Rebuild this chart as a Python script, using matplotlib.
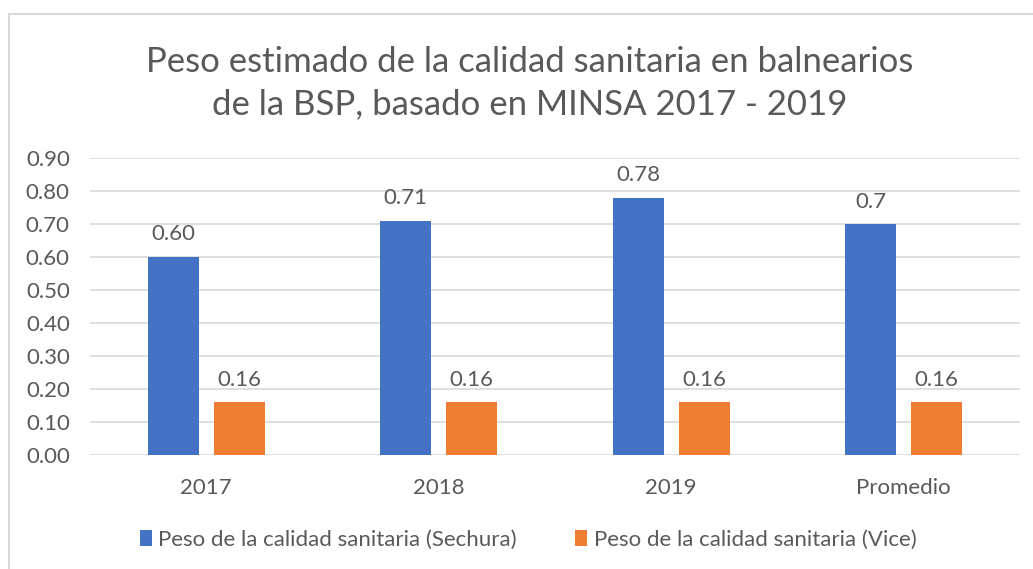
import matplotlib
matplotlib.use("Agg")
import matplotlib.pyplot as plt
import numpy as np
from matplotlib.patches import Rectangle

categories = ["2017", "2018", "2019", "Promedio"]
sechura = [0.60, 0.71, 0.78, 0.70]
vice = [0.16, 0.16, 0.16, 0.16]
sechura_labels = ["0.60", "0.71", "0.78", "0.7"]
vice_labels = ["0.16", "0.16", "0.16", "0.16"]
yticks = [0.0, 0.1, 0.2, 0.3, 0.4, 0.5, 0.6, 0.7, 0.8, 0.9]
title = "Peso estimado de la calidad sanitaria en balnearios\nde la BSP, basado en MINSA 2017 - 2019"
series_names = ["Peso de la calidad sanitaria (Sechura)", "Peso de la calidad sanitaria (Vice)"]

BLUE = "#4472C4"
ORANGE = "#ED7D31"
TXT = "#595959"
GRID = "#D9D9D9"
FS = 16

plt.rcParams['font.family'] = ['Lato', 'DejaVu Sans']

fig = plt.figure(figsize=(10.33, 5.69), dpi=100)
fig.patch.set_facecolor("white")
# outer chart frame
fig.patches.append(Rectangle((9/1033, -0.05), 1.1, 1 - 14/569 + 0.05, transform=fig.transFigure,
                             fill=False, edgecolor=GRID, linewidth=1.5))

ax = fig.add_axes([90/1033, 1 - 455/569, 930/1033, (455 - 158)/569])
x = np.arange(len(categories))
w = 0.22
off = 0.142
b1 = ax.bar(x - off, sechura, w, color=BLUE, zorder=3)
b2 = ax.bar(x + off, vice, w, color=ORANGE, zorder=3)

for xi, v, lab in zip(x - off, sechura, sechura_labels):
    ax.annotate(lab, (xi, v), xytext=(0, 9), textcoords="offset points",
                ha="center", va="bottom", fontsize=FS, color=TXT)
for xi, v, lab in zip(x + off, vice, vice_labels):
    ax.annotate(lab, (xi, v), xytext=(0, 9), textcoords="offset points",
                ha="center", va="bottom", fontsize=FS, color=TXT)

ax.set_xlim(-0.5, len(categories) - 0.5)
ax.set_ylim(0, 0.9)
ax.set_yticks(yticks)
ax.set_yticklabels([f"{t:.2f}" for t in yticks])
ax.set_xticks(x)
ax.set_xticklabels(categories)
ax.tick_params(axis="both", length=0, labelsize=FS, colors=TXT)
ax.tick_params(axis="y", pad=14.5)
ax.tick_params(axis="x", pad=16.5)
ax.yaxis.grid(True, color=GRID, linewidth=1.2, zorder=0)
for s in ax.spines.values():
    s.set_visible(False)
ax.set_facecolor("none")

fig.text(530/1033, 1 - 83.5/569, title, ha="center", va="center", fontsize=25,
         color=TXT, linespacing=1.4)

leg = fig.legend([b1, b2], series_names, loc="center", bbox_to_anchor=(528/1033, 1 - 540/569),
                 ncol=2, frameon=False, fontsize=FS, handlelength=0.55, handleheight=0.7,
                 handletextpad=0.3, columnspacing=2.6)
for t in leg.get_texts():
    t.set_color(TXT)

fig.savefig("out.png", dpi=100, facecolor="white")
